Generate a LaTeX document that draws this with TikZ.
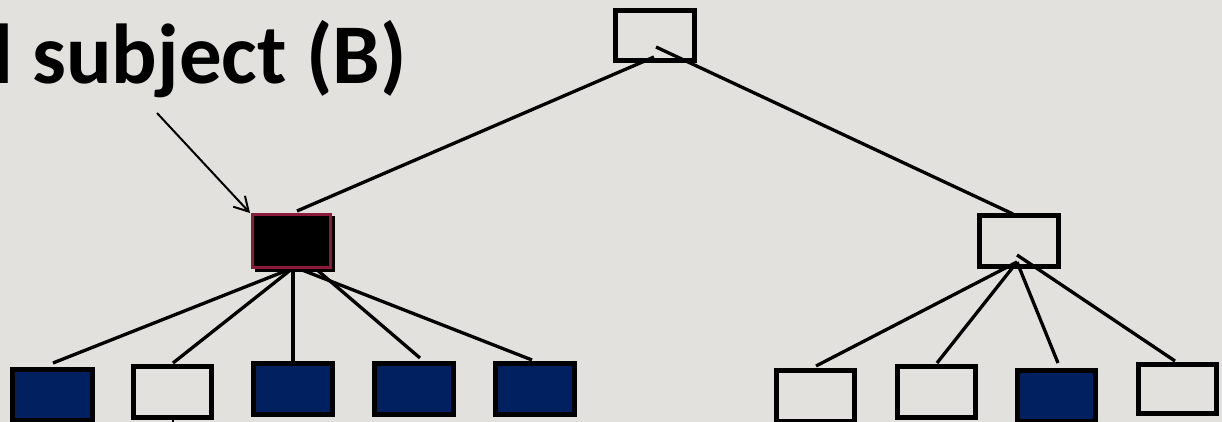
\documentclass[tikz,border=0pt]{standalone}
\usepackage{fontspec}
\setmainfont{Carlito}
\usetikzlibrary{arrows.meta}
\definecolor{bg}{RGB}{227,225,221}
\definecolor{navy}{RGB}{0,32,96}
\definecolor{wine}{RGB}{140,26,58}
\begin{document}
\begin{tikzpicture}[x=1pt,y=-1pt,
  box/.style={draw=black,line width=5pt,inner sep=0pt,minimum width=79pt,minimum height=50.5pt},
  bluebox/.style={box,fill=navy},
  link/.style={line width=3.3pt,line cap=butt},
  pointer/.style={line width=2pt,-{Straight Barb[length=14pt,width=16pt,line width=2pt]}}]
\fill[bg] (0,0) rectangle (1222,422);
\useasboundingbox (0,0) rectangle (1222,422);
% title
\node[anchor=base east,inner sep=0pt,font=\bfseries\fontsize{85}{95}\selectfont] (title) at (407,84) {l subject (B)};
% coordinates of connector ends
\coordinate (t1) at (654,57);
\coordinate (t2) at (656,47);
\coordinate (bIn) at (297,211);
\coordinate (rIn) at (1013,214);
\coordinate (bo) at (293,268);
\coordinate (bo4) at (316,269);
\coordinate (bo5) at (297,268);
\coordinate (l1t) at (53,363);
\coordinate (l2t) at (173,363);
\coordinate (l3t) at (293,361);
\coordinate (l4t) at (420,358);
\coordinate (l5t) at (532,360);
\coordinate (ro) at (1017,262);
\coordinate (ro4) at (1017,255);
\coordinate (rat) at (816,366);
\coordinate (rbt) at (937,363);
\coordinate (rct) at (1058,363);
\coordinate (rdt) at (1175,361);
\coordinate (as) at (157,113);
\coordinate (ae) at (250,213);
\coordinate (l2b) at (173,419);
\coordinate (l2e) at (173,423);
% connectors
\draw[link] (t1) -- (bIn);
\draw[link] (t2) -- (rIn);
\draw[link] (bo) -- (l1t);
\draw[link] (bo) -- (l2t);
\draw[link] (bo) -- (l3t);
\draw[link] (bo4) -- (l4t);
\draw[link] (bo5) -- (l5t);
\draw[link] (ro) -- (rat);
\draw[link] (ro) -- (rbt);
\draw[link] (ro) -- (rct);
\draw[link] (ro4) -- (rdt);
\draw[line width=2pt] (l2b) -- (l2e);
% boxes
\node[box] (top) at (655,35.5) {};
\fill[black] (254.5,216) rectangle (335,272);
\node[draw=wine,fill=black,line width=3pt,inner sep=0pt,minimum width=78pt,minimum height=53pt] (B) at (291.5,241) {};
\node[bluebox,minimum width=80pt] (L1) at (52.5,395) {};
\node[box,minimum width=78pt] (L2) at (172.5,392) {};
\node[bluebox] (L3) at (293,389) {};
\node[bluebox] (L4) at (413.5,389) {};
\node[bluebox] (L5) at (534.5,389) {};
\node[box] (R) at (1019,241) {};
\node[box,minimum width=78pt] (Ra) at (815.5,396) {};
\node[box,minimum width=78pt] (Rb) at (936.5,392) {};
\node[bluebox,minimum width=78pt] (Rc) at (1056.5,396) {};
\node[box,minimum width=78pt,minimum height=49pt] (Rd) at (1177.5,389) {};
% pointer arrow
\draw[pointer] (as) -- (ae);
\end{tikzpicture}
\end{document}
